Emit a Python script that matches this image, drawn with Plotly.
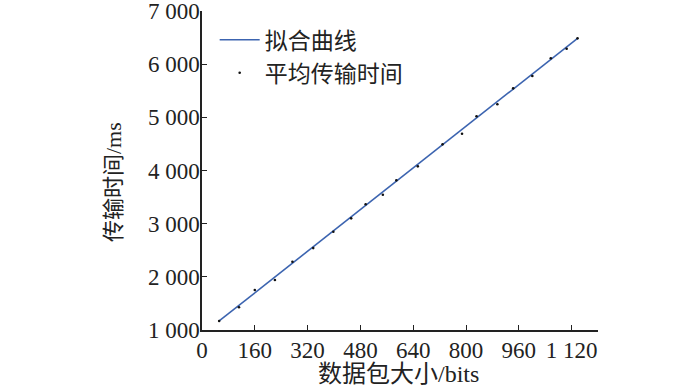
import plotly.graph_objects as go

# Data
packet_bits = [52, 112, 160, 221, 274, 337, 398, 452, 496, 548, 589, 654,
               729, 788, 832, 895, 943, 1001, 1057, 1105, 1138]
avg_time_ms = [1169, 1427, 1752, 1940, 2285, 2540, 2849, 3100, 3364, 3545,
               3815, 4078, 4492, 4692, 5019, 5245, 5545, 5777, 6110, 6291, 6486]
fit_x = [52, 1138]
fit_y = [1170, 6486]

x_tickvals = [0, 160, 320, 480, 640, 800, 960, 1120]
x_ticktext = ["0", "160", "320", "480", "640", "800", "960", "1 120"]
y_tickvals = [1000, 2000, 3000, 4000, 5000, 6000, 7000]
y_ticktext = ["1 000", "2 000", "3 000", "4 000", "5 000", "6 000", "7 000"]
x_title = "数据包大小/bits"
y_title = "传输时间/ms"

FONT = "Liberation Serif, Times New Roman, Noto Sans CJK SC"

fig = go.Figure()
fig.add_trace(go.Scatter(x=fit_x, y=fit_y, mode="lines", name="拟合曲线",
                         line=dict(color="#3c64b0", width=1.6)))
fig.add_trace(go.Scatter(x=packet_bits, y=avg_time_ms, mode="markers",
                         name="平均传输时间",
                         marker=dict(color="#111111", size=2.6)))

axis_common = dict(showline=True, linecolor="#222222", linewidth=1.5,
                   ticks="inside", ticklen=5, tickwidth=1.3, tickcolor="#222222",
                   showgrid=False, zeroline=False, mirror=False,
                   automargin=False, ticklabeloverflow="allow",
                   tickfont=dict(family=FONT, size=23, color="#222222"))

fig.update_xaxes(range=[0, 1200], tickvals=x_tickvals, ticktext=x_ticktext,
                 ticklabelstandoff=-1, **axis_common)
fig.update_yaxes(range=[1000, 7000], tickvals=y_tickvals, ticktext=y_ticktext,
                 ticklabelstandoff=-4, **axis_common)

fig.add_annotation(text=x_title, xref="paper", yref="paper",
                   x=(398 - 202) / 396, y=-(374 - 330) / 319,
                   xanchor="center", yanchor="middle", showarrow=False,
                   font=dict(family=FONT, size=24, color="#222222"))
fig.add_annotation(text=y_title, xref="paper", yref="paper", textangle=-90,
                   x=-(202 - 113) / 396, y=1 - (182 - 11) / 319,
                   xanchor="center", yanchor="middle", showarrow=False,
                   font=dict(family=FONT, size=22, color="#222222"))

fig.update_layout(
    width=700, height=388,
    margin=dict(l=202, r=102, t=11, b=58),
    paper_bgcolor="white", plot_bgcolor="white",
    showlegend=True,
    legend=dict(x=0.032, y=0.977, xanchor="left", yanchor="top",
                bgcolor="rgba(0,0,0,0)", tracegroupgap=0, itemwidth=40,
                font=dict(family="Noto Sans CJK SC", size=23, color="#222222")),
)

fig.write_html("out.html", config={"displayModeBar": False},
               post_script="document.body.style.margin='0';")
